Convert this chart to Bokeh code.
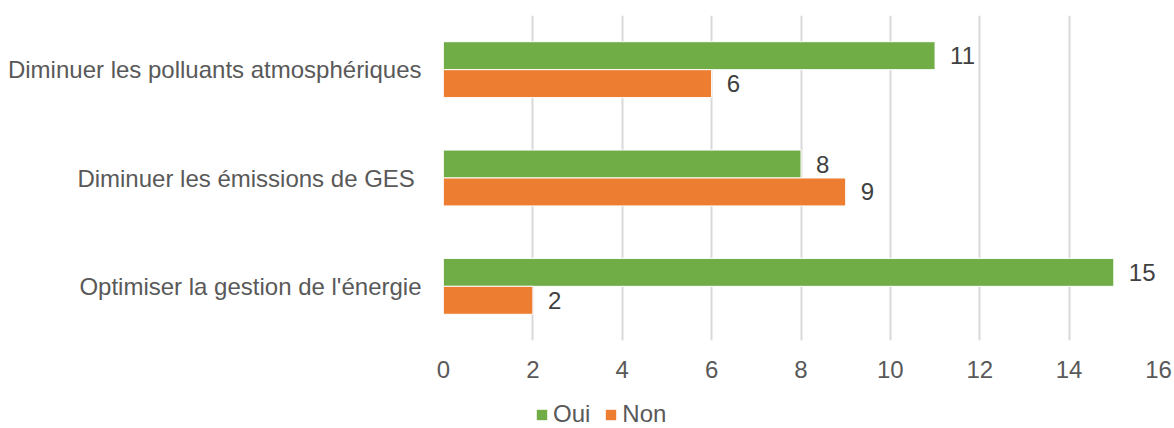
from bokeh.plotting import figure
from bokeh.layouts import column
from bokeh.models import (ColumnDataSource, FactorRange, Range1d, FixedTicker,
                          Legend, LegendItem)
from bokeh.transform import dodge
from bokeh.core.properties import value
from bokeh.embed import file_html
from bokeh.resources import INLINE

# ---- data ----
categories = ["Optimiser la gestion de l'énergie",
              "Diminuer les émissions de GES ",
              "Diminuer les polluants atmosphériques"]
oui = [15, 8, 11]
non = [2, 9, 6]
series = ["Oui", "Non"]
x_ticks = [0, 2, 4, 6, 8, 10, 12, 14, 16]

GREEN = "#70AD47"
ORANGE = "#ED7D31"
FONT = "Liberation Sans"

src = ColumnDataSource(dict(cat=categories, oui=oui, non=non,
                            oui_lbl=[str(v) for v in oui],
                            non_lbl=[str(v) for v in non]))

p = figure(width=1174, height=400, output_backend="svg", toolbar_location=None,
           y_range=FactorRange(*categories, range_padding=0),
           x_range=Range1d(0, 16),
           min_border_left=443, min_border_right=16,
           min_border_top=15, min_border_bottom=60)
p.outline_line_color = None
p.background_fill_color = "white"
p.border_fill_color = "white"

BAR_H = 0.258
OFF = 0.129

p.hbar(y=dodge("cat", OFF, range=p.y_range), right="oui", left=0,
       height=BAR_H, source=src, fill_color=GREEN,
       line_color="white", line_width=1)
p.hbar(y=dodge("cat", -OFF, range=p.y_range), right="non", left=0,
       height=BAR_H, source=src, fill_color=ORANGE,
       line_color="white", line_width=1)

p.text(x="oui", y=dodge("cat", OFF, range=p.y_range), text="oui_lbl", source=src,
       x_offset=15, text_align="left", text_baseline="middle",
       text_font=value(FONT), text_font_size="24px", text_color="#404040")
p.text(x="non", y=dodge("cat", -OFF, range=p.y_range), text="non_lbl", source=src,
       x_offset=15, text_align="left", text_baseline="middle",
       text_font=value(FONT), text_font_size="24px", text_color="#404040")

# axes
p.xaxis.ticker = FixedTicker(ticks=x_ticks)
p.xaxis.axis_line_color = None
p.xaxis.major_tick_line_color = None
p.xaxis.minor_tick_line_color = None
p.xaxis.major_tick_out = 0
p.xaxis.major_tick_in = 0
p.xaxis.major_label_standoff = 20
p.xaxis.major_label_text_font = FONT
p.xaxis.major_label_text_font_size = "24px"
p.xaxis.major_label_text_color = "#595959"

p.yaxis.axis_line_color = None
p.yaxis.major_tick_line_color = None
p.yaxis.minor_tick_line_color = None
p.yaxis.major_tick_out = 0
p.yaxis.major_tick_in = 0
p.yaxis.major_label_standoff = 22
p.yaxis.major_label_text_font = FONT
p.yaxis.major_label_text_font_size = "24px"
p.yaxis.major_label_text_color = "#595959"

p.xgrid.grid_line_color = "#D9D9D9"
p.xgrid.grid_line_width = 2
p.ygrid.grid_line_color = None

# ---- legend strip (swatch renderers sit outside the visible range) ----
lg = figure(width=1174, height=28, output_backend="svg", toolbar_location=None,
            x_range=Range1d(0, 1), y_range=Range1d(0, 1),
            x_axis_type=None, y_axis_type=None,
            min_border_left=0, min_border_right=0,
            min_border_top=0, min_border_bottom=0)
lg.outline_line_color = None
lg.grid.visible = False
lg_oui = lg.hbar(y=[-5], right=[1], left=[0], height=0.5,
                 fill_color=GREEN, line_color=None)
lg_non = lg.hbar(y=[-5], right=[1], left=[0], height=0.5,
                 fill_color=ORANGE, line_color=None)

legend = Legend(items=[LegendItem(label=series[0], renderers=[lg_oui]),
                       LegendItem(label=series[1], renderers=[lg_non])],
                orientation="horizontal", location=(92, 0),
                glyph_width=13, glyph_height=13, label_standoff=5, spacing=14,
                padding=0, margin=0, border_line_color=None,
                background_fill_alpha=0,
                label_text_font=FONT, label_text_font_size="24px",
                label_text_color="#595959")
lg.add_layout(legend, "center")

layout = column(p, lg, spacing=0)
open("out.html", "w").write(file_html(layout, INLINE))
